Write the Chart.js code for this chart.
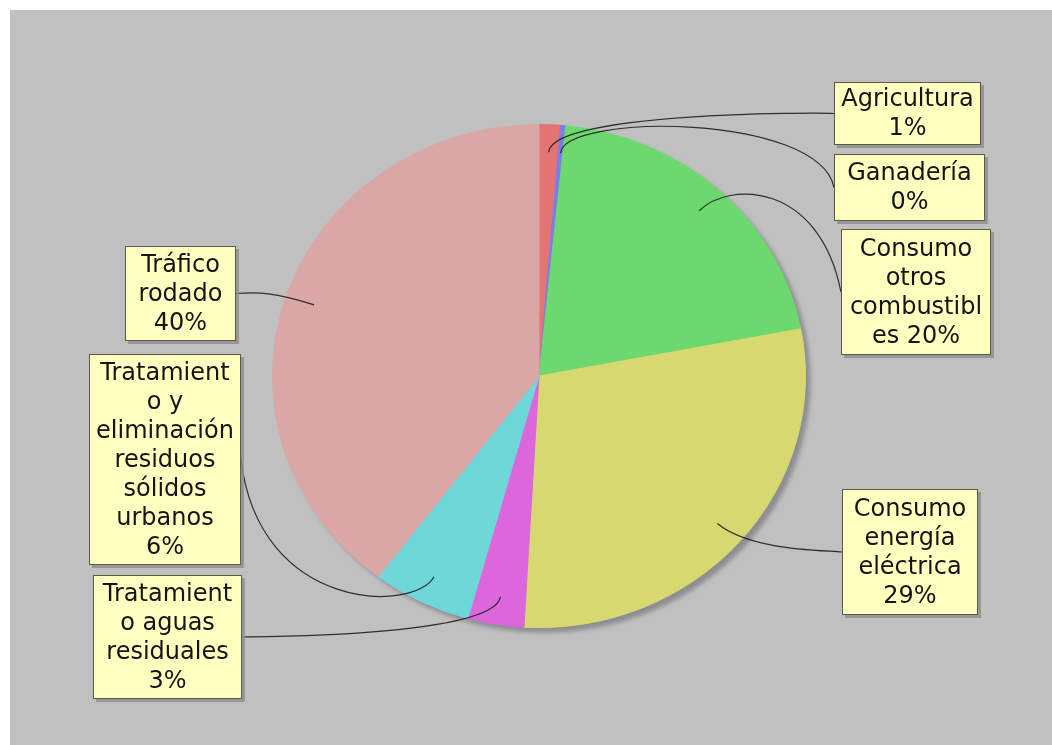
<!DOCTYPE html>
<html>
<head>
<meta charset="utf-8">
<script src="https://cdn.jsdelivr.net/npm/chart.js@4.4.1/dist/chart.umd.min.js"></script>
<style>
  html, body { margin: 0; padding: 0; background: #fff; }
  #marco { position: absolute; left: 10px; top: 10px; width: 1042px; height: 735px; background: #c0c0c0; }
  canvas { display: block; }
</style>
</head>
<body>
<div id="marco"><canvas id="emisionesChart" width="1042" height="735"></canvas></div>
<script>
const categorias = [
  "Agricultura",
  "Ganadería",
  "Consumo otros combustibles",
  "Consumo energía eléctrica",
  "Tratamiento aguas residuales",
  "Tratamiento y eliminación residuos sólidos urbanos",
  "Tráfico rodado",
];
const valores = [1.3, 0.3, 20.4, 28.9, 3.4, 6.0, 39.7];

// texto de las etiquetas, ya partido en lineas ({p} = porcentaje)
const etiquetas = [
  ["Agricultura", "{p}"],
  ["Ganadería", "{p}"],
  ["Consumo", "otros", "combustibl", "es {p}"],
  ["Consumo", "energía", "eléctrica", "{p}"],
  ["Tratamient", "o aguas", "residuales", "{p}"],
  ["Tratamient", "o y", "eliminación", "residuos", "sólidos", "urbanos", "{p}"],
  ["Tráfico", "rodado", "{p}"],
];

const cores = [
  "rgb(226, 116, 116)",
  "rgb(124, 124, 232)",
  "rgb(108, 216, 110)",
  "rgb(216, 216, 112)",
  "rgb(220, 102, 220)",
  "rgb(110, 216, 216)",
  "rgb(218, 166, 166)",
];

// cajas de etiqueta [x, y, ancho, alto] en coordenadas del canvas
const cajas = [
  [824, 72, 147, 63],
  [824, 144, 151, 67],
  [831, 219, 150, 126],
  [832, 479, 136, 126],
  [83, 565, 149, 124],
  [79, 344, 152, 211],
  [115, 236, 111, 95],
];

const escalaY = 252 / 267;
const total = valores.reduce((a, b) => a + b, 0);
const charts = {};

const elipsePlugin = {
  id: "elipse",
  beforeDatasetsDraw(chart) {
    const arco = chart.getDatasetMeta(0).data[0];
    const ctx = chart.ctx;
    ctx.save();
    ctx.translate(arco.x, arco.y);
    ctx.scale(1, escalaY);
    ctx.translate(-arco.x, -arco.y);
    // sombra del pastel
    ctx.save();
    ctx.fillStyle = "rgba(90, 90, 104, 0.5)";
    ctx.filter = "blur(2px)";
    ctx.beginPath();
    ctx.arc(arco.x + 5, arco.y + 5 / escalaY, arco.outerRadius, 0, Math.PI * 2);
    ctx.fill();
    ctx.restore();
  },
  afterDatasetsDraw(chart) {
    chart.ctx.restore();
  },
};

const etiquetasPlugin = {
  id: "etiquetas",
  afterDraw(chart) {
    const ctx = chart.ctx;
    const meta = chart.getDatasetMeta(0);
    meta.data.forEach((el, i) => {
      const caja = cajas[i];
      const medio = (el.startAngle + el.endAngle) / 2;
      const rx = el.outerRadius;
      const ry = rx * escalaY;
      const cos = Math.cos(medio);
      const sin = Math.sin(medio);
      const linkX = el.x + 0.89 * rx * cos;
      const linkY = el.y + 0.89 * ry * sin;
      const codoX = el.x + 1.05 * rx * cos;
      const codoY = el.y + 1.05 * ry * sin;
      const derecha = cos >= 0;
      const anclaX = derecha ? el.x + 1.05 * rx : el.x - 1.05 * rx;
      const destinoX = derecha ? caja[0] : caja[0] + caja[2];
      const destinoY = caja[1] + caja[3] / 2;

      ctx.save();
      ctx.strokeStyle = "rgba(30, 30, 30, 0.9)";
      ctx.lineWidth = 1.2;
      ctx.beginPath();
      ctx.moveTo(linkX, linkY);
      ctx.bezierCurveTo(codoX, codoY, anclaX, codoY, destinoX, destinoY);
      ctx.stroke();

      // caja
      ctx.fillStyle = "rgba(140, 140, 140, 0.8)";
      ctx.fillRect(caja[0] + 3, caja[1] + 3, caja[2], caja[3]);
      ctx.fillStyle = "#ffffc0";
      ctx.fillRect(caja[0], caja[1], caja[2], caja[3]);
      ctx.strokeStyle = "#5a5a48";
      ctx.lineWidth = 1;
      ctx.strokeRect(caja[0] + 0.5, caja[1] + 0.5, caja[2] - 1, caja[3] - 1);

      const pct = Math.round((valores[i] / total) * 100) + "%";
      const lineas = etiquetas[i].map((l) => l.replace("{p}", pct));
      const alto = 29;
      const y0 = caja[1] + caja[3] / 2 - (lineas.length * alto) / 2 + alto / 2 + 1;
      ctx.fillStyle = "#141414";
      ctx.font = "24px 'DejaVu Sans'";
      ctx.textAlign = "center";
      ctx.textBaseline = "middle";
      lineas.forEach((l, k) => {
        ctx.fillText(l, caja[0] + caja[2] / 2, y0 + k * alto);
      });
      ctx.restore();
    });
  },
};

function loadEmisionesChart() {
  const ctx = document.getElementById("emisionesChart");
  if (!ctx) return;

  if (charts.emisiones) {
    charts.emisiones.destroy();
  }

  charts.emisiones = new Chart(ctx.getContext("2d"), {
    type: "pie",
    data: {
      labels: categorias,
      datasets: [
        {
          data: valores,
          backgroundColor: cores,
          borderColor: cores,
          borderWidth: 1,
        },
      ],
    },
    options: {
      responsive: false,
      animation: false,
      layout: {
        padding: { left: 262, right: 246, top: 99, bottom: 102 },
      },
      plugins: {
        legend: { display: false },
        tooltip: { enabled: false },
      },
    },
    plugins: [elipsePlugin, etiquetasPlugin],
  });
}

loadEmisionesChart();
</script>
</body>
</html>
